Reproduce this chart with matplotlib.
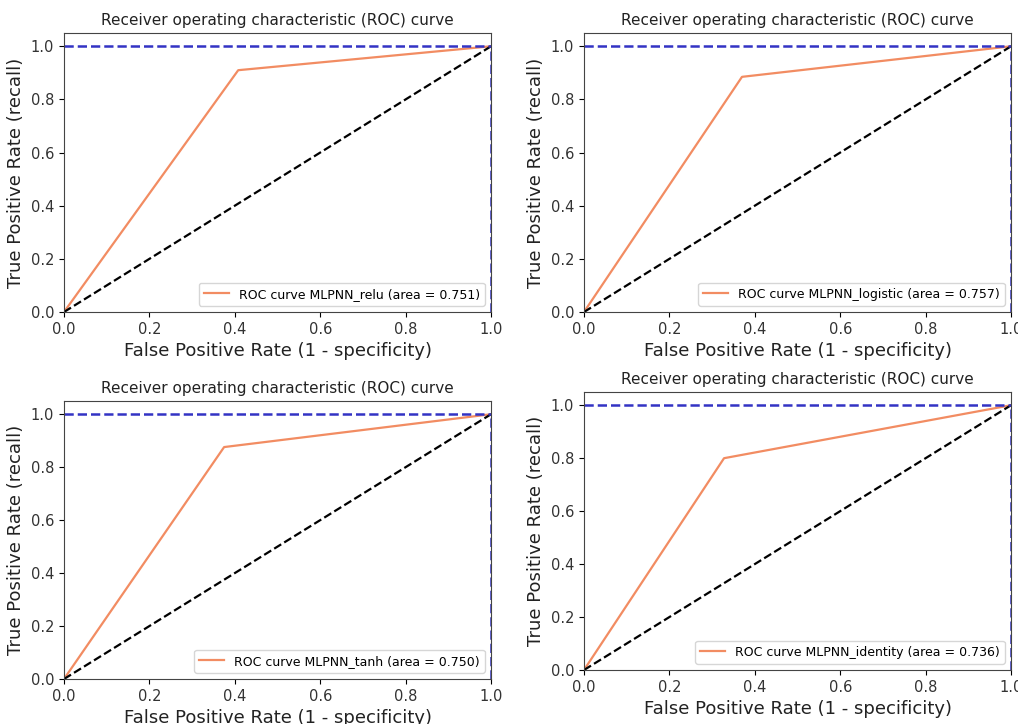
import matplotlib.pyplot as plt

models = ["MLPNN_relu", "MLPNN_logistic", "MLPNN_tanh", "MLPNN_identity"]
areas = [0.751, 0.757, 0.750, 0.736]
fpr = [[0.0, 0.408, 1.0], [0.0, 0.370, 1.0], [0.0, 0.375, 1.0], [0.0, 0.328, 1.0]]
tpr = [[0.0, 0.910, 1.0], [0.0, 0.885, 1.0], [0.0, 0.876, 1.0], [0.0, 0.800, 1.0]]

# axes boxes in figure pixels: left, top, right, bottom
boxes = [(64, 33, 491, 312), (584, 33, 1011, 312),
         (64, 401, 491, 679), (584, 392, 1011, 670)]

W, H = 1018, 724
fig = plt.figure(figsize=(W / 100, H / 100), dpi=100)

for i in range(4):
    l, t, r, b = boxes[i]
    ax = fig.add_axes([l / W, 1 - b / H, (r - l) / W, (b - t) / H])
    ax.plot(fpr[i], tpr[i], color='#f28c62', lw=1.6,
            label='ROC curve %s (area = %0.3f)' % (models[i], areas[i]))
    ax.plot([0, 1], [0, 1], color='black', lw=1.6, linestyle='--')
    ax.plot([0, 1], [1, 1], color='#3333c4', lw=1.8, linestyle='--')
    ax.plot([1, 1], [0, 1], color='#3333c4', lw=1.8, linestyle='--')
    ax.set_xlim(0.0, 1.0)
    ax.set_ylim(0.0, 1.05)
    ax.tick_params(labelsize=10.5, labelcolor='#333333')
    for s in ax.spines.values():
        s.set_color('#444444')
    ax.set_title('Receiver operating characteristic (ROC) curve', fontsize=11, color='#222222')
    ax.set_xlabel('False Positive Rate (1 - specificity)', fontsize=13, color='#222222')
    ax.set_ylabel('True Positive Rate (recall)', fontsize=13, color='#222222')
    ax.legend(loc='lower right', fontsize=9)

fig.savefig('out.png', dpi=100)
